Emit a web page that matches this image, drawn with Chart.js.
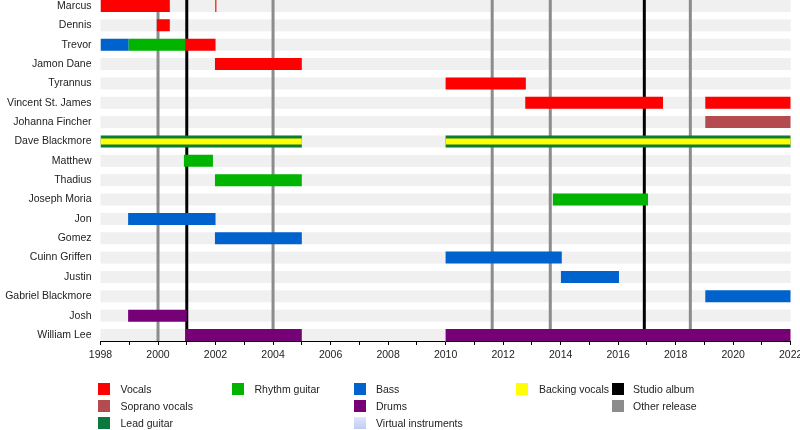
<!DOCTYPE html>
<html><head><meta charset="utf-8">
<script src="https://cdn.jsdelivr.net/npm/chart.js@4.4.1/dist/chart.umd.min.js"></script>
<style>
html,body{margin:0;padding:0;background:#fff;overflow:hidden;width:800px;height:430px;}
#wrap{position:absolute;left:0;top:0;width:800px;height:370px;}
#legend{position:absolute;left:0;top:0;width:800px;height:430px;font:10.5px "Liberation Sans",Arial,sans-serif;color:#222;}
.sw{position:absolute;width:12px;height:12px;}
.lt{position:absolute;line-height:12px;white-space:nowrap;}
</style></head><body>
<div id="wrap"><canvas id="c"></canvas></div>
<div id="legend"></div>
<script>
// ---- data ----
const members = ["Marcus","Dennis","Trevor","Jamon Dane","Tyrannus","Vincent St. James","Johanna Fincher","Dave Blackmore","Matthew","Thadius","Joseph Moria","Jon","Gomez","Cuinn Griffen","Justin","Gabriel Blackmore","Josh","William Lee"];
const axisYears = [1998,1999,2000,2001,2002,2003,2004,2005,2006,2007,2008,2009,2010,2011,2012,2013,2014,2015,2016,2017,2018,2019,2020,2021,2022];
// periods: [member, from, to]
const vocals = [["Marcus",1998,2000.41],["Marcus",2001.99,2002.03],["Dennis",1999.96,2000.41],["Trevor",2000.96,2002.0],["Jamon Dane",2001.98,2005.0],["Tyrannus",2010.0,2012.79],["Vincent St. James",2012.77,2017.56],["Vincent St. James",2019.03,2022]];
const sopranoVocals = [["Johanna Fincher",2019.03,2022]];
const leadGuitar = [["Dave Blackmore",1998,2005.0],["Dave Blackmore",2010.0,2022]];
const backingVocals = [["Dave Blackmore",1998,2005.0],["Dave Blackmore",2010.0,2022]];
const rhythmGuitar = [["Trevor",1998.98,2000.96],["Matthew",2000.9,2001.91],["Thadius",2001.98,2005.0],["Joseph Moria",2013.73,2017.04]];
const bass = [["Trevor",1998,1998.98],["Jon",1998.96,2002.0],["Gomez",2001.98,2005.0],["Cuinn Griffen",2010.0,2014.04],["Justin",2014.01,2016.03],["Gabriel Blackmore",2019.03,2022]];
const drums = [["Josh",1998.96,2001.0],["William Lee",2000.96,2005.0],["William Lee",2010.0,2022]];
const virtualInstruments = [];
const studioAlbums = [2001.0, 2016.91];
const otherReleases = [2000.0, 2004.0, 2011.62, 2013.64, 2018.51];

// ---- styles ----
const FONT = '"Liberation Sans", Arial, sans-serif';
const roles = [
  {label:"Vocals", list:vocals, color:"#ff0000", thick:12, order:2},
  {label:"Soprano vocals", list:sopranoVocals, color:"#b34b4f", thick:12, order:2},
  {label:"Lead guitar", list:leadGuitar, color:"#0b7a3b", thick:12, order:3},
  {label:"Rhythm guitar", list:rhythmGuitar, color:"#00b400", thick:12, order:2},
  {label:"Bass", list:bass, color:"#0062cc", thick:12, order:2},
  {label:"Drums", list:drums, color:"#760076", thick:12, order:2},
  {label:"Virtual instruments", list:virtualInstruments, color:"#c3d1f5", thick:12, order:2},
  {label:"Backing vocals", list:backingVocals, color:"#ffff00", thick:6, order:1}
];
const toData = list => list.map(([m,a,b]) => ({x:[a,b], y:members.indexOf(m)}));

const backdrop = {
  id:'backdrop',
  beforeDatasetsDraw(chart){
    const {ctx, chartArea:ca, scales:{x,y}} = chart;
    ctx.save();
    ctx.fillStyle = '#f0f0f0';
    const x0 = x.getPixelForValue(axisYears[0]), x1 = x.getPixelForValue(axisYears[axisYears.length-1]);
    members.forEach((m,i)=>{ const cy = y.getPixelForValue(i); ctx.fillRect(x0, cy-6, x1-x0, 12); });
    const line = (v,color)=>{ const px = x.getPixelForValue(v); ctx.strokeStyle=color; ctx.lineWidth=3; ctx.beginPath(); ctx.moveTo(px, ca.top); ctx.lineTo(px, ca.bottom); ctx.stroke(); };
    otherReleases.forEach(v=>line(v,'#8c8c8c'));
    studioAlbums.forEach(v=>line(v,'#000000'));
    ctx.restore();
  }
};

new Chart(document.getElementById('c'), {
  type:'bar',
  data:{
    datasets: roles.map(r => ({
      label:r.label, data:toData(r.list), backgroundColor:r.color,
      barThickness:r.thick, grouped:false, borderWidth:0, order:r.order, inflateAmount:0
    }))
  },
  options:{
    indexAxis:'y', responsive:true, maintainAspectRatio:false, animation:false,
    layout:{padding:{left:0,right:9.3,top:0,bottom:0}},
    plugins:{legend:{display:false}, tooltip:{enabled:false}},
    scales:{
      x:{
        type:'linear', min:1998, max:2022, position:'bottom', offset:false,
        afterBuildTicks: s => { s.ticks = axisYears.map(v=>({value:v})); },
        ticks:{callback: v => (v % 2 === 0 ? String(v) : ''), autoSkip:false, maxRotation:0, padding:4, color:'#222', font:{family:FONT, size:10.5}},
        grid:{drawOnChartArea:false, drawTicks:true, tickLength:4, tickColor:'#000', tickWidth:1},
        border:{display:true, color:'#000', width:1},
        afterFit: s => { s.height = 29; s.paddingLeft = 0; s.paddingRight = 0; }
      },
      y:{
        type:'linear', min:-0.31, max:17.31, reverse:true, offset:false,
        afterBuildTicks: s => { s.ticks = members.map((_,i)=>({value:i})); },
        ticks:{callback: v => members[v], autoSkip:false, padding:9, color:'#222', font:{family:FONT, size:10.5}},
        grid:{display:false, drawTicks:false},
        border:{display:false},
        afterFit: s => { s.width = 100.5; s.paddingTop = 0; s.paddingBottom = 0; }
      }
    }
  },
  plugins:[backdrop]
});

// ---- HTML legend ----
const legendItems = [
  {label:"Vocals", color:"#ff0000", col:0, row:0},
  {label:"Soprano vocals", color:"#b34b4f", col:0, row:1},
  {label:"Lead guitar", color:"#0b7a3b", col:0, row:2},
  {label:"Rhythm guitar", color:"#00b400", col:1, row:0},
  {label:"Bass", color:"#0062cc", col:2, row:0},
  {label:"Drums", color:"#760076", col:2, row:1},
  {label:"Virtual instruments", color:"linear-gradient(#dfe7fb,#bfcdf3)", col:2, row:2},
  {label:"Backing vocals", color:"#ffff00", col:3, row:0},
  {label:"Studio album", color:"#000000", col:4, row:0},
  {label:"Other release", color:"#8c8c8c", col:4, row:1}
];
const colSw = [98, 232, 354, 516, 611.5], colTx = [120.5, 254.5, 376, 539, 633];
const rowTop = [383, 400, 417];
const lg = document.getElementById('legend');
legendItems.forEach(it => {
  const s = document.createElement('div'); s.className='sw';
  s.style.left = colSw[it.col]+'px'; s.style.top = rowTop[it.row]+'px'; s.style.background = it.color;
  const t = document.createElement('div'); t.className='lt';
  t.style.left = colTx[it.col]+'px'; t.style.top = rowTop[it.row]+'px'; t.textContent = it.label;
  lg.appendChild(s); lg.appendChild(t);
});
</script>
</body></html>
